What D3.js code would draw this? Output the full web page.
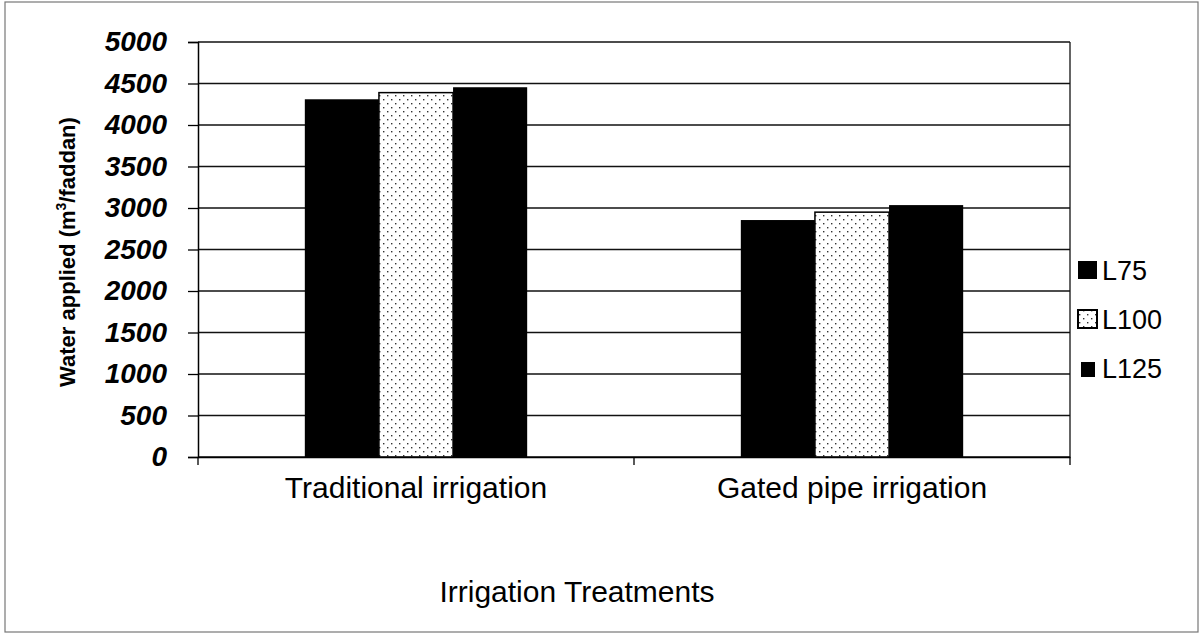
<!DOCTYPE html>
<html>
<head>
<meta charset="utf-8">
<script src="https://cdnjs.cloudflare.com/ajax/libs/d3/7.8.5/d3.min.js"></script>
<style>
  body { margin: 0; background: #fff; }
  svg { display: block; font-family: "Liberation Sans", Arial, sans-serif; }
</style>
</head>
<body>
<div id="chart"></div>
<script>
// Data
const categories = ["Traditional irrigation", "Gated pipe irrigation"];
const series = ["L75", "L100", "L125"];
const l75 = [4310, 2855];
const l100 = [4390, 2950];
const l125 = [4455, 3035];
const yTicks = [0, 500, 1000, 1500, 2000, 2500, 3000, 3500, 4000, 4500, 5000];

const values = {L75: l75, L100: l100, L125: l125};

const W = 1201, H = 634;
const margin = {top: 42, right: 131, bottom: 177, left: 198};
const width = W - margin.left - margin.right,
      height = H - margin.top - margin.bottom;

const svg = d3.select("#chart").append("svg")
  .attr("width", W)
  .attr("height", H);

// dotted fill for L100
const defs = svg.append("defs");
const pat = defs.append("pattern")
  .attr("id", "dots")
  .attr("patternUnits", "userSpaceOnUse")
  .attr("width", 8).attr("height", 8);
pat.append("rect").attr("width", 8).attr("height", 8).attr("fill", "#fff");
pat.append("rect").attr("x", 1).attr("y", 1).attr("width", 1.4).attr("height", 1.4).attr("fill", "#333");
pat.append("rect").attr("x", 5).attr("y", 5).attr("width", 1.4).attr("height", 1.4).attr("fill", "#333");

// outer frame
svg.append("rect")
  .attr("x", 5).attr("y", 2)
  .attr("width", 1193).attr("height", 630)
  .attr("fill", "none")
  .attr("stroke", "#777")
  .attr("stroke-width", 1.2);

const g = svg.append("g")
  .attr("transform", `translate(${margin.left},${margin.top})`);

const x = d3.scaleBand()
  .domain(categories)
  .range([0, width]);

const xInner = d3.scaleBand()
  .domain(series)
  .range([x.bandwidth() * 0.245, x.bandwidth() * 0.755]);

const y = d3.scaleLinear()
  .domain([0, 5000])
  .range([height, 0]);

// gridlines
g.selectAll(".grid")
  .data(yTicks)
  .enter().append("line")
    .attr("x1", 0).attr("x2", width)
    .attr("y1", d => y(d)).attr("y2", d => y(d))
    .attr("stroke", "#111")
    .attr("stroke-width", 1.3);

// bars
const groups = g.selectAll(".grp")
  .data(categories)
  .enter().append("g")
    .attr("transform", d => `translate(${x(d)},0)`);

groups.selectAll("rect")
  .data((d, i) => series.map(s => ({s, v: values[s][i]})))
  .enter().append("rect")
    .attr("x", d => xInner(d.s))
    .attr("width", xInner.bandwidth())
    .attr("y", d => y(d.v))
    .attr("height", d => height - y(d.v))
    .attr("fill", d => d.s === "L100" ? "url(#dots)" : "#000")
    .attr("stroke", "#000")
    .attr("stroke-width", d => d.s === "L100" ? 1.5 : 0);

// plot border right
g.append("line")
  .attr("x1", width).attr("x2", width)
  .attr("y1", 0).attr("y2", height)
  .attr("stroke", "#111").attr("stroke-width", 1.3);

// y axis
const yAxis = g.append("g")
  .call(d3.axisLeft(y).tickValues(yTicks).tickSize(10).tickPadding(21).tickFormat(d3.format("d")));
yAxis.select(".domain").attr("stroke", "#000").attr("stroke-width", 1.5);
yAxis.selectAll("line").attr("stroke", "#000").attr("stroke-width", 1.3);
yAxis.selectAll("text")
  .attr("fill", "#000")
  .style("font-size", "28px")
  .style("font-weight", "bold")
  .style("font-style", "italic");

// x axis
const xAxis = g.append("g")
  .attr("transform", `translate(0,${height})`)
  .call(d3.axisBottom(x).tickSize(0).tickPadding(20));
xAxis.select(".domain").attr("stroke", "#000").attr("stroke-width", 1.5);
xAxis.selectAll("text")
  .attr("fill", "#000")
  .style("font-size", "30px");
// category separator ticks
xAxis.selectAll(".sep")
  .data([0, 1, 2])
  .enter().append("line")
    .attr("x1", d => d * x.step()).attr("x2", d => d * x.step())
    .attr("y1", 0).attr("y2", 8)
    .attr("stroke", "#000").attr("stroke-width", 1.3);

// axis titles
svg.append("text")
  .attr("transform", `translate(75,252) rotate(-90)`)
  .attr("text-anchor", "middle")
  .style("font-size", "22px")
  .style("font-weight", "bold")
  .html('Water applied (m<tspan dy="-9" font-size="14px">3</tspan><tspan dy="9">/faddan)</tspan>');

svg.append("text")
  .attr("x", 577)
  .attr("y", 602)
  .attr("text-anchor", "middle")
  .style("font-size", "30px")
  .text("Irrigation Treatments");

// legend
const legend = svg.append("g")
  .attr("transform", `translate(1078,280)`);
series.forEach((s, i) => {
  const row = legend.append("g").attr("transform", `translate(0,${i * 49})`);
  const small = s === "L125";
  row.append("rect")
    .attr("x", small ? 3 : 0).attr("y", small ? -16 : -19)
    .attr("width", small ? 14 : 19).attr("height", small ? 15 : 18)
    .attr("fill", s === "L100" ? "url(#dots)" : "#000")
    .attr("stroke", "#000")
    .attr("stroke-width", s === "L100" ? 2 : 0);
  row.append("text")
    .attr("x", 24).attr("y", 0)
    .style("font-size", "27px")
    .text(s);
});
</script>
</body>
</html>
